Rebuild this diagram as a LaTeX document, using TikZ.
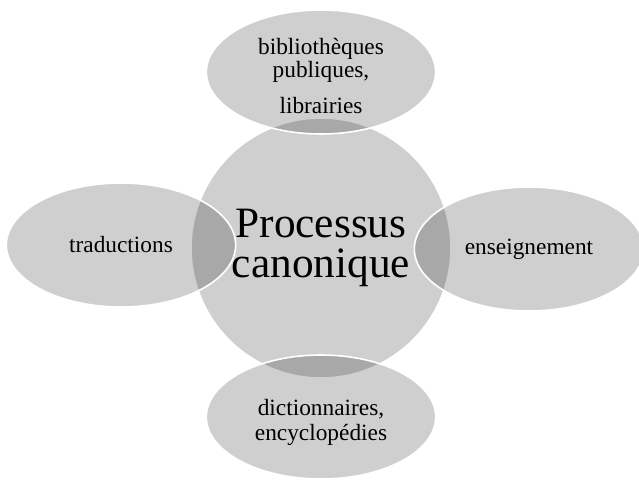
\documentclass[tikz,border=0pt]{standalone}
\usepackage{fontspec}
\setmainfont{Liberation Serif}
\usepackage{tikz}
\usetikzlibrary{shapes.geometric,positioning}

\begin{document}
\begin{tikzpicture}[x=0.75pt, y=-0.75pt, font=\fontsize{17.5}{19}\selectfont,
  hub/.style={circle, draw=white, line width=1.2pt, fill=black, fill opacity=0.19, text opacity=1, minimum size=195pt, inner sep=0pt, align=center},
  petal/.style={ellipse, draw=white, line width=1.2pt, fill=black, fill opacity=0.19, text opacity=1, minimum width=172pt, minimum height=93pt, inner sep=0pt, align=center},
  txt/.style={align=center, inner sep=0pt}]
\useasboundingbox (0,0) rectangle (639,481);
\node[hub, font=\fontsize{32.5}{30}\selectfont] (proc) at (321,248) {Processus\\canonique};
\node[petal] (biblio) at (321,72) {};
\node[petal] (trad) at (121,245) {traductions};
\node[petal] (ens) at (529,249) {enseignement};
\node[petal] (dict) at (321,417) {};
% texts of the upper and lower petals sit a little low
\node[txt, font=\fontsize{17.5}{17.5}\selectfont] (biblio-t) at ([yshift=-3pt]biblio.center) {bibliothèques\\publiques,\\[9pt]librairies};
\node[txt] (dict-t) at ([yshift=-4pt]dict.center) {dictionnaires,\\encyclopédies};
\end{tikzpicture}
\end{document}
